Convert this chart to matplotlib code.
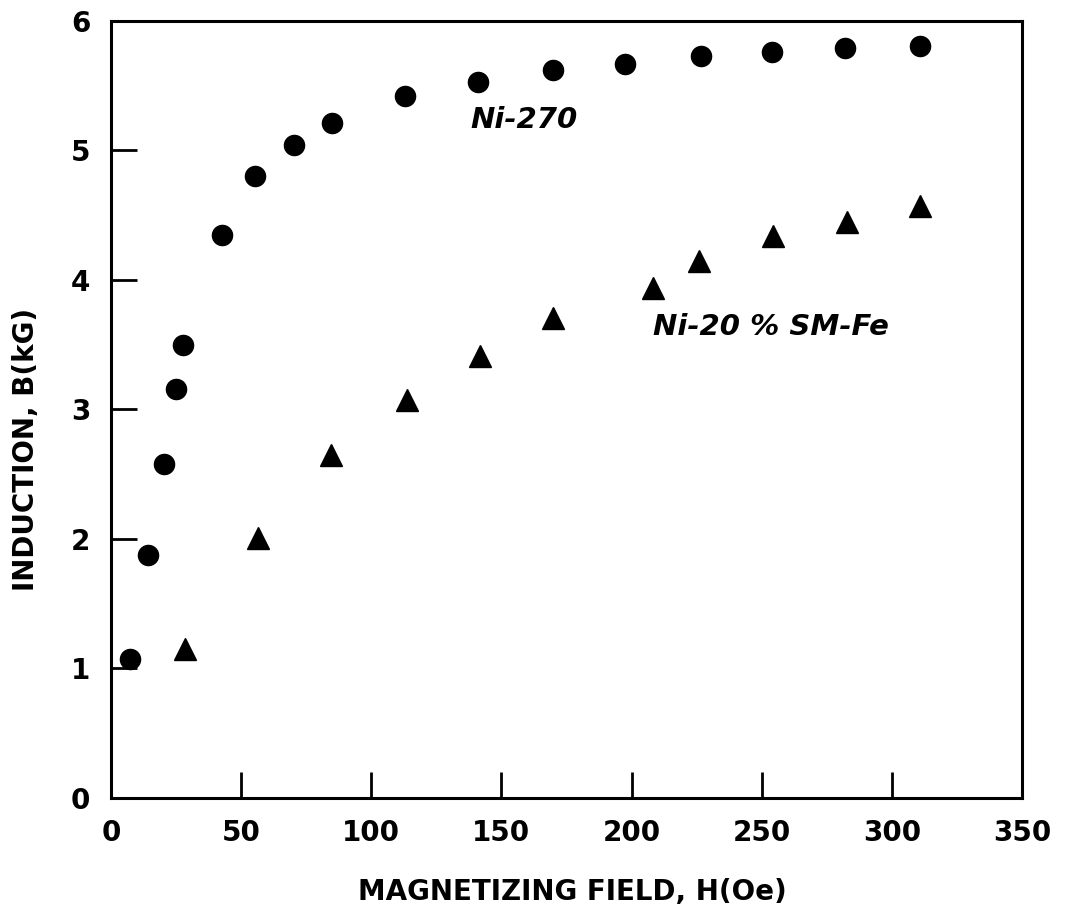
import matplotlib
matplotlib.use("Agg")
import matplotlib.pyplot as plt

# Ni-270 (circles)
ni270_h = [7.4, 14.2, 20.2, 25.1, 27.6, 42.6, 55.3, 70.5, 85.1, 112.8,
           141.1, 170.0, 197.6, 226.7, 254.0, 282.2, 310.7]
ni270_b = [1.07, 1.88, 2.58, 3.16, 3.50, 4.35, 4.80, 5.04, 5.21, 5.42,
           5.53, 5.62, 5.67, 5.73, 5.76, 5.79, 5.81]

# Ni-20% SM-Fe (triangles)
nife_h = [28.3, 56.5, 84.6, 113.8, 141.8, 169.8, 208.3, 226.1, 254.2, 282.9, 311.0]
nife_b = [1.15, 2.01, 2.65, 3.07, 3.41, 3.71, 3.94, 4.15, 4.34, 4.45, 4.57]

x_ticks = [0, 50, 100, 150, 200, 250, 300, 350]
y_ticks = [0, 1, 2, 3, 4, 5, 6]

plt.rcParams['font.family'] = ['DejaVu Sans']

fig = plt.figure(figsize=(10.68, 9.17), dpi=100)
fig.patch.set_facecolor('white')
ax = fig.add_axes([0.1039, 0.1298, 0.8530, 0.8473])

ax.plot(ni270_h, ni270_b, linestyle='none', marker='o', markersize=14.5,
        color='black')
ax.plot(nife_h, nife_b, linestyle='none', marker='^', markersize=15.5,
        color='black')

ax.set_xlim(0, 350)
ax.set_ylim(0, 6)
ax.set_xticks(x_ticks)
ax.set_yticks(y_ticks)

for s in ax.spines.values():
    s.set_linewidth(2.2)

ax.tick_params(direction='in', length=19, width=2.0, pad=15,
               labelsize=20, top=False, right=False)
for lbl in ax.get_xticklabels() + ax.get_yticklabels():
    lbl.set_fontweight('bold')

ax.set_xlabel('MAGNETIZING FIELD, H(Oe)', fontsize=20, fontweight='bold')
ax.set_ylabel('INDUCTION, B(kG)', fontsize=20, fontweight='bold')
ax.xaxis.set_label_coords(0.506, -0.103)
ax.yaxis.set_label_coords(-0.078, 0.448)

ax.text(158.7, 5.235, 'Ni-270', fontsize=21, fontweight='bold',
        style='italic', ha='center', va='center')
ax.text(253.7, 3.637, 'Ni-20 % SM-Fe', fontsize=21, fontweight='bold',
        style='italic', ha='center', va='center')

fig.savefig('out.png', dpi=100, facecolor='white')
